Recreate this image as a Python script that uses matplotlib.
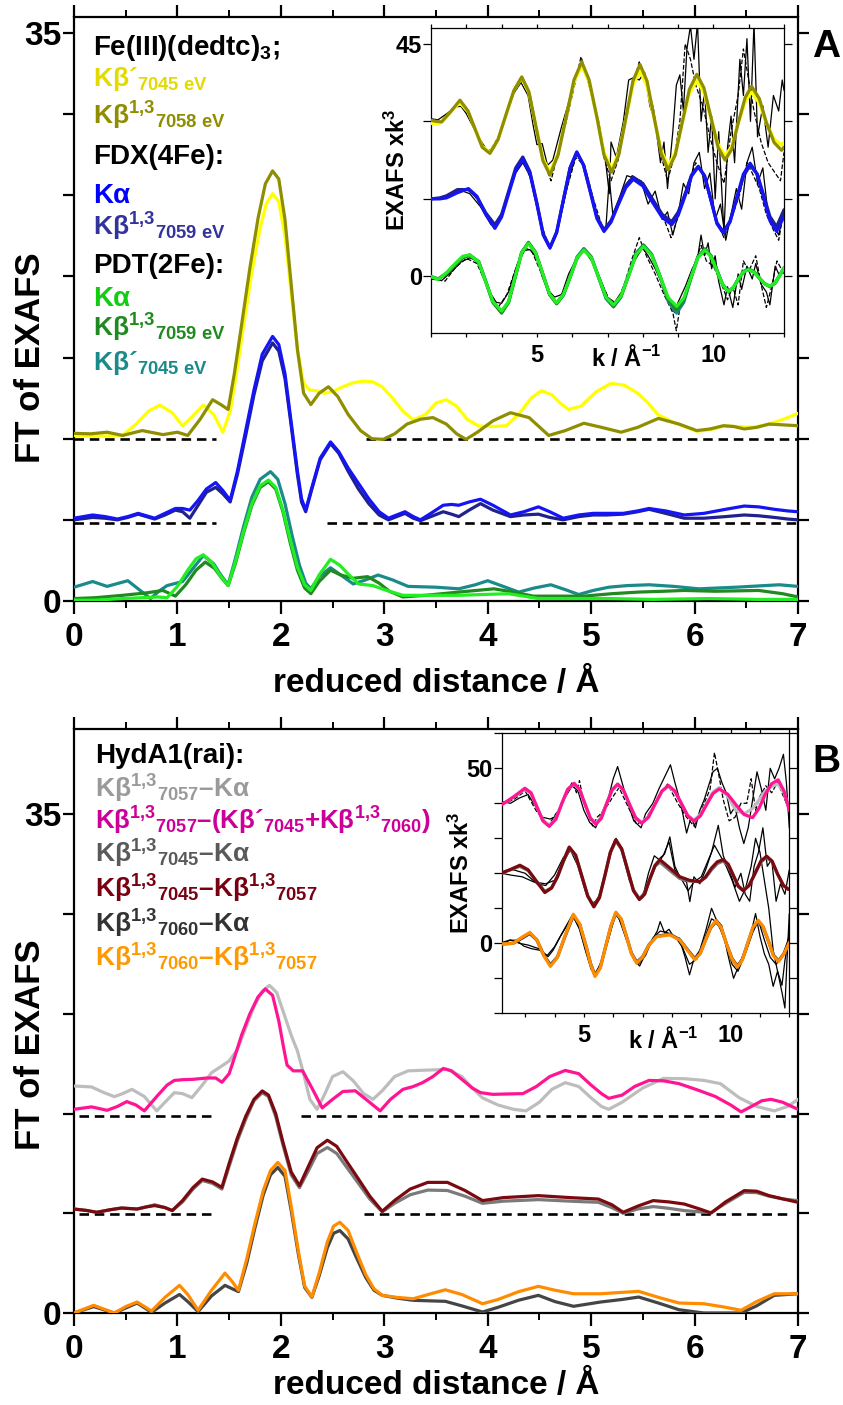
import matplotlib
matplotlib.use("Agg")
import matplotlib.pyplot as plt
from matplotlib.ticker import FixedLocator, MultipleLocator, FixedFormatter

plt.rcParams['font.family'] = ['Liberation Sans', 'DejaVu Sans']
plt.rcParams['font.weight'] = 'bold'
plt.rcParams['axes.labelweight'] = 'bold'
plt.rcParams['mathtext.fontset'] = 'custom'
plt.rcParams['mathtext.rm'] = 'Liberation Sans:bold'
plt.rcParams['mathtext.it'] = 'Liberation Sans:bold'
plt.rcParams['mathtext.bf'] = 'Liberation Sans:bold'
plt.rcParams['mathtext.sf'] = 'Liberation Sans:bold'
plt.rcParams['lines.solid_joinstyle'] = 'round'
plt.rcParams['lines.solid_capstyle'] = 'round'

# ---------------- Panel A: FT magnitudes ----------------
fe_kb13_x = [0, 0.16, 0.32, 0.47, 0.66, 0.86, 1.0, 1.1, 1.22, 1.34, 1.42, 1.49, 1.55, 1.62, 1.7, 1.78, 1.85,
             1.92, 1.98, 2.04, 2.1, 2.16, 2.22, 2.29, 2.37, 2.46, 2.55, 2.65, 2.77, 2.88, 2.99, 3.1, 3.22,
             3.35, 3.47, 3.6, 3.7, 3.79, 3.9, 4.05, 4.22, 4.4, 4.59, 4.75, 4.93, 5.1, 5.29, 5.45, 5.65,
             5.85, 6.02, 6.15, 6.28, 6.38, 6.48, 6.6, 6.72, 6.86, 7.0]
fe_kb13_y = [10.33, 10.3, 10.4, 10.2, 10.5, 10.25, 10.4, 10.2, 11.2, 12.4, 12.1, 11.8, 14.0, 17.0, 20.5, 23.6,
             25.7, 26.5, 26.0, 23.5, 19.5, 15.5, 12.8, 12.1, 12.8, 13.2, 12.6, 11.5, 10.5, 10.0, 9.96, 10.3,
             10.9, 11.2, 11.3, 10.9, 10.3, 9.96, 10.4, 11.1, 11.6, 11.3, 10.2, 10.5, 10.95, 10.7, 10.4, 10.7,
             11.25, 10.9, 10.5, 10.6, 10.8, 10.75, 10.6, 10.7, 10.9, 10.85, 10.8]

fe_kbp_x = [0, 0.2, 0.47, 0.6, 0.72, 0.83, 0.95, 1.05, 1.15, 1.25, 1.35, 1.44, 1.51, 1.57, 1.64, 1.72, 1.8,
            1.86, 1.92, 1.98, 2.04, 2.1, 2.16, 2.22, 2.28, 2.35, 2.42, 2.5, 2.6, 2.7, 2.8, 2.89, 2.98, 3.08,
            3.18, 3.28, 3.4, 3.5, 3.6, 3.7, 3.8, 3.91, 4.05, 4.18, 4.3, 4.42, 4.52, 4.62, 4.7, 4.78, 4.9,
            5.05, 5.19, 5.32, 5.45, 5.55, 5.65, 5.8, 6.02, 6.15, 6.28, 6.42, 6.57, 6.72, 6.86, 7.0]
fe_kbp_y = [10.2, 10.15, 10.2, 10.9, 11.7, 12.07, 11.6, 10.78, 11.4, 12.07, 11.5, 10.4, 11.7, 14.0, 17.0,
            20.3, 23.0, 24.5, 25.1, 24.6, 22.5, 19.0, 15.5, 13.4, 13.0, 12.95, 12.8, 12.9, 13.2, 13.45,
            13.55, 13.5, 13.2, 12.5, 11.7, 11.15, 11.5, 12.2, 12.4, 12.0, 11.2, 10.78, 10.75, 10.8, 11.5,
            12.5, 12.96, 12.7, 12.2, 11.8, 12.0, 12.9, 13.4, 13.3, 12.8, 12.2, 11.46, 11.0, 10.46, 10.55,
            10.78, 10.75, 10.7, 10.9, 11.2, 11.56]

fdx_x = [0, 0.18, 0.3, 0.42, 0.52, 0.62, 0.7, 0.78, 0.88, 0.98, 1.05, 1.12, 1.2, 1.28, 1.37, 1.44, 1.51,
         1.58, 1.66, 1.74, 1.82, 1.92, 1.98, 2.04, 2.1, 2.16, 2.2, 2.24, 2.3, 2.38, 2.48, 2.56, 2.65, 2.75,
         2.85, 2.95, 3.04, 3.12, 3.2, 3.28, 3.35, 3.45, 3.57, 3.65, 3.72, 3.82, 3.93, 4.05, 4.22, 4.35,
         4.49, 4.6, 4.73, 4.88, 5.02, 5.15, 5.31, 5.45, 5.56, 5.72, 5.9, 6.09, 6.3, 6.48, 6.62, 6.77, 6.9, 7.0]
fdx_ka_y = [5.1, 5.3, 5.2, 5.05, 5.2, 5.4, 5.25, 5.1, 5.4, 5.7, 5.7, 5.6, 6.2, 6.9, 7.3, 6.8, 6.2, 8.0, 10.5,
            13.0, 15.2, 16.3, 15.8, 14.0, 11.0, 8.0, 6.3, 5.6, 7.0, 8.8, 9.8, 9.2, 8.2, 7.25, 6.3, 5.5, 5.1,
            5.3, 5.5, 5.2, 5.0, 5.4, 5.9, 5.95, 5.9, 6.1, 6.27, 5.9, 5.3, 5.5, 5.8, 5.5, 5.1, 5.3, 5.4, 5.4,
            5.4, 5.55, 5.7, 5.55, 5.3, 5.4, 5.65, 5.85, 5.8, 5.65, 5.55, 5.5]
fdx_kb13_y = [5.0, 5.15, 5.1, 5.0, 5.15, 5.35, 5.2, 5.05, 5.3, 5.6, 5.5, 5.1, 5.9, 6.7, 7.0, 6.6, 6.1, 7.8,
              10.2, 12.7, 14.8, 15.9, 15.4, 13.7, 10.8, 7.8, 6.1, 5.5, 6.9, 8.7, 9.7, 9.1, 8.0, 6.9, 6.0, 5.3,
              5.0, 5.2, 5.4, 5.1, 4.95, 5.2, 5.5, 5.35, 5.2, 5.6, 6.0, 5.6, 5.2, 5.3, 5.35, 5.15, 5.0, 5.2,
              5.3, 5.3, 5.35, 5.5, 5.65, 5.4, 5.1, 5.1, 5.2, 5.3, 5.25, 5.15, 5.05, 5.0]

pdt_ka_x = [0, 0.2, 0.47, 0.65, 0.81, 0.9, 1.0, 1.1, 1.18, 1.25, 1.33, 1.41, 1.49, 1.56, 1.64, 1.72, 1.8,
            1.88, 1.95, 2.02, 2.09, 2.16, 2.23, 2.29, 2.37, 2.48, 2.57, 2.66, 2.75, 2.89, 3.0, 3.18, 3.4,
            3.72, 3.95, 4.2, 4.49, 4.8, 5.17, 5.6, 6.14, 6.6, 7.0]
pdt_ka_y = [0.05, 0.05, 0.15, 0.2, 0.25, 0.2, 0.9, 1.9, 2.6, 2.85, 2.4, 1.6, 0.95, 2.4, 4.3, 6.0, 7.1, 7.45,
            7.0, 5.6, 3.8, 2.1, 1.0, 0.65, 1.6, 2.57, 2.2, 1.6, 1.05, 0.95, 0.7, 0.35, 0.35, 0.35, 0.4, 0.45,
            0.15, 0.15, 0.15, 0.1, 0.15, 0.1, 0.1]

pdt_kb13_x = [0, 0.2, 0.47, 0.7, 0.86, 0.98, 1.08, 1.18, 1.27, 1.36, 1.43, 1.49, 1.56, 1.64, 1.72, 1.8, 1.88,
              1.95, 2.02, 2.09, 2.16, 2.23, 2.29, 2.37, 2.48, 2.58, 2.7, 2.84, 2.95, 3.05, 3.18, 3.4, 3.72,
              4.06, 4.25, 4.44, 4.7, 4.93, 5.2, 5.46, 5.7, 5.9, 6.2, 6.62, 6.85, 7.0]
pdt_kb13_y = [0.15, 0.2, 0.35, 0.5, 0.65, 0.3, 1.0, 1.9, 2.4, 2.0, 1.4, 0.95, 2.3, 4.2, 5.9, 7.0, 7.35, 6.9,
              5.5, 3.6, 1.9, 0.8, 0.45, 1.2, 1.9, 1.6, 1.4, 1.5, 1.1, 0.6, 0.25, 0.35, 0.55, 0.75, 0.55, 0.3,
              0.3, 0.3, 0.45, 0.55, 0.6, 0.65, 0.6, 0.65, 0.45, 0.25]

pdt_kbp_x = [0, 0.18, 0.32, 0.52, 0.63, 0.74, 0.82, 0.9, 1.05, 1.15, 1.25, 1.35, 1.42, 1.49, 1.56, 1.64,
             1.72, 1.8, 1.9, 1.97, 2.04, 2.11, 2.18, 2.24, 2.29, 2.37, 2.48, 2.58, 2.7, 2.82, 2.94, 3.08,
             3.23, 3.5, 3.72, 3.88, 4.0, 4.15, 4.3, 4.45, 4.61, 4.75, 4.88, 5.02, 5.17, 5.35, 5.56, 5.8,
             6.04, 6.4, 6.82, 7.0]
pdt_kbp_y = [0.85, 1.2, 0.9, 1.25, 0.7, 0.15, 0.6, 0.95, 1.2, 2.0, 2.8, 2.3, 1.6, 1.0, 2.6, 4.6, 6.4, 7.5,
             7.97, 7.5, 6.0, 4.0, 2.2, 1.1, 0.75, 1.5, 2.05, 1.6, 1.05, 1.3, 1.6, 1.3, 0.9, 0.85, 0.75, 1.0,
             1.25, 0.9, 0.55, 0.8, 1.0, 0.7, 0.4, 0.65, 0.85, 0.95, 1.0, 0.9, 0.75, 0.85, 1.0, 0.9]

# dashed zero lines of the offset traces: (level, x-start, x-end)
a_baselines = [(10.0, 0.0, 1.37), (10.0, 2.82, 7.0), (4.8, 0.0, 1.37), (4.8, 2.45, 7.0)]

# ---------------- Panel A inset: k^3-weighted EXAFS ----------------
ia_fit_x = [2.0, 2.15, 2.3, 2.55, 2.82, 3.05, 3.25, 3.45, 3.67, 3.9, 4.12, 4.35, 4.57, 4.77, 4.97, 5.17, 5.37,
            5.6, 5.82, 6.05, 6.27, 6.48, 6.7, 6.9, 7.12, 7.32, 7.52, 7.72, 7.92, 8.12, 8.32, 8.52, 8.72, 8.92,
            9.12, 9.32, 9.53, 9.73, 9.93, 10.13, 10.33, 10.52, 10.7, 10.9, 11.08, 11.3, 11.5, 11.72, 11.93, 12.0]
ia_fe_kb13 = [30.2, 30.0, 29.9, 31.8, 34.1, 32.0, 28.5, 25.0, 23.8, 26.5, 31.2, 36.0, 38.6, 35.8, 29.1, 22.4,
              19.6, 23.5, 30.5, 38.0, 41.5, 38.0, 30.8, 23.5, 20.2, 23.5, 30.6, 37.8, 41.0, 37.8, 30.8, 23.8,
              20.6, 23.5, 29.9, 36.2, 39.1, 36.5, 30.8, 25.0, 22.5, 24.6, 29.6, 34.6, 36.8, 34.4, 29.8, 25.9,
              24.4, 25.0]
ia_fe_kbp = [29.6, 29.5, 29.8, 31.8, 33.6, 31.8, 28.5, 25.2, 24.0, 26.5, 31.2, 36.0, 38.4, 35.6, 29.0, 22.8,
             20.2, 23.8, 30.5, 37.6, 40.8, 37.6, 30.8, 24.0, 20.8, 24.0, 30.6, 37.0, 39.8, 36.8, 30.6, 24.4,
             21.4, 24.0, 29.8, 35.4, 37.9, 35.6, 30.6, 25.6, 23.3, 25.2, 29.6, 33.7, 35.7, 33.5, 29.6, 26.6,
             25.4, 26.0]
ia_fe_data_x = [2.0, 2.2, 2.45, 2.7, 2.85, 3.0, 3.3, 3.6, 3.8, 4.1, 4.35, 4.55, 4.75, 4.9, 5.0, 5.15, 5.3,
                5.45, 5.7, 5.85, 6.05, 6.25, 6.4, 6.55, 6.75, 6.95, 7.05, 7.1, 7.25, 7.45, 7.6, 7.75, 7.9,
                8.05, 8.2, 8.35, 8.5, 8.6, 8.7, 8.85, 8.95, 9.05, 9.15, 9.25, 9.35, 9.45, 9.55, 9.65, 9.75,
                9.85, 9.95, 10.05, 10.15, 10.3, 10.4, 10.5, 10.6, 10.75, 10.85, 10.95, 11.05, 11.15, 11.25,
                11.4, 11.55, 11.7, 11.85, 11.95, 12.0]
ia_fe_data_y = [30.5, 30.3, 31.5, 32.8, 32.9, 31.5, 27.5, 24.2, 25.0, 30.5, 35.5, 37.5, 35.0, 29.0, 25.5,
                25.7, 21.5, 22.5, 29.0, 32.5, 37.5, 40.5, 39.0, 35.0, 30.0, 22.0, 16.0, 26.0, 23.0, 30.0,
                38.0, 38.5, 38.0, 39.5, 33.0, 30.0, 22.0, 26.0, 17.0, 28.0, 37.0, 39.0, 32.0, 44.0, 48.5,
                42.0, 49.0, 30.0, 36.0, 24.0, 31.0, 15.0, 28.0, 8.5, 25.0, 31.0, 22.0, 42.0, 35.0, 46.0,
                30.0, 49.0, 27.0, 33.0, 25.0, 35.0, 32.0, 38.0, 36.0]
ia_fe_data2_x = [2.0, 2.3, 2.6, 2.85, 3.1, 3.4, 3.65, 3.95, 4.2, 4.45, 4.6, 4.8, 5.0, 5.2, 5.4, 5.6, 5.85,
                 6.05, 6.25, 6.45, 6.7, 6.9, 7.1, 7.3, 7.5, 7.7, 7.9, 8.1, 8.3, 8.5, 8.7, 8.9, 9.05, 9.2,
                 9.35, 9.5, 9.7, 9.9, 10.1, 10.3, 10.5, 10.7, 10.85, 11.0, 11.15, 11.35, 11.55, 11.75, 11.9, 12.0]
ia_fe_data2_y = [30.0, 29.8, 32.5, 33.5, 30.5, 26.0, 24.0, 27.5, 33.0, 37.0, 38.0, 35.5, 28.5, 22.0, 18.5,
                 24.0, 30.5, 36.5, 42.5, 38.0, 30.5, 23.0, 18.5, 22.5, 31.0, 36.5, 41.5, 37.5, 32.5, 24.0,
                 18.5, 23.5, 30.0, 45.0, 42.0, 37.0, 33.0, 27.0, 22.0, 18.0, 28.0, 35.0, 44.0, 38.0, 32.0,
                 26.0, 22.0, 20.0, 18.5, 24.0]

ia_fdx_x = [2.0, 2.25, 2.44, 2.75, 3.06, 3.3, 3.55, 3.81, 4.0, 4.2, 4.4, 4.6, 4.8, 5.0, 5.18, 5.37, 5.56,
            5.75, 5.94, 6.13, 6.32, 6.51, 6.7, 6.9, 7.1, 7.3, 7.52, 7.73, 8.0, 8.27, 8.55, 8.82, 9.0, 9.2,
            9.38, 9.57, 9.75, 9.93, 10.1, 10.28, 10.47, 10.66, 10.85, 11.04, 11.24, 11.42, 11.6, 11.79, 12.0]
ia_fdx_ka = [15.0, 15.0, 15.2, 16.2, 17.0, 15.5, 12.0, 9.3, 11.5, 16.0, 20.5, 22.6, 20.0, 14.0, 8.0, 5.5,
             8.5, 14.8, 21.0, 24.1, 21.5, 16.4, 11.2, 8.7, 10.5, 13.8, 17.2, 18.8, 17.5, 14.4, 11.4, 10.0,
             11.8, 15.6, 19.4, 21.2, 19.5, 14.8, 10.2, 8.4, 10.5, 15.2, 19.8, 21.9, 19.8, 15.3, 10.8, 8.7, 11.6]
ia_fdx_kb13 = [15.0, 15.2, 15.6, 16.8, 16.8, 15.4, 12.3, 10.0, 12.0, 16.5, 21.0, 23.1, 20.3, 14.2, 8.2, 5.6,
               8.6, 14.8, 21.0, 24.0, 21.6, 16.6, 11.5, 9.0, 10.8, 14.0, 17.6, 19.2, 18.0, 15.0, 12.0, 10.6,
               12.4, 16.0, 19.6, 21.3, 19.4, 14.8, 10.4, 8.6, 10.7, 15.0, 19.4, 21.5, 19.8, 15.8, 11.6, 9.6, 12.9]
ia_fdx_data_x = [2.0, 2.3, 2.6, 2.9, 3.1, 3.4, 3.7, 3.9, 4.15, 4.4, 4.6, 4.8, 5.0, 5.2, 5.37, 5.55, 5.75,
                 5.95, 6.13, 6.35, 6.55, 6.75, 6.95, 7.05, 7.15, 7.35, 7.55, 7.75, 7.95, 8.15, 8.35, 8.55,
                 8.7, 8.85, 9.0, 9.15, 9.3, 9.45, 9.6, 9.75, 9.9, 10.05, 10.2, 10.35, 10.5, 10.65, 10.8,
                 10.95, 11.1, 11.25, 11.4, 11.55, 11.7, 11.85, 12.0]
ia_fdx_data_y = [15.0, 15.2, 15.8, 16.5, 16.0, 13.5, 10.0, 10.3, 15.0, 20.0, 22.0, 19.5, 13.5, 7.5, 5.5, 8.0,
                 14.0, 20.0, 23.8, 21.0, 15.0, 10.5, 9.0, 19.0, 12.0, 15.5, 19.5, 19.0, 18.5, 14.0, 16.5,
                 11.0, 12.5, 8.0, 12.0, 18.0, 16.0, 22.0, 24.0, 17.0, 20.0, 11.0, 14.0, 7.0, 12.0, 17.0,
                 13.0, 22.0, 25.0, 18.0, 21.0, 12.0, 10.0, 8.0, 13.0]
ia_fdx_data2_x = [2.0, 2.4, 2.8, 3.1, 3.4, 3.8, 4.05, 4.35, 4.6, 4.85, 5.1, 5.37, 5.6, 5.85, 6.1, 6.35, 6.6,
                  6.9, 7.15, 7.45, 7.7, 7.95, 8.25, 8.55, 8.8, 9.0, 9.25, 9.5, 9.7, 9.9, 10.1, 10.3, 10.5,
                  10.75, 10.95, 11.1, 11.3, 11.5, 11.7, 11.85, 12.0]
ia_fdx_data2_y = [15.0, 15.3, 16.5, 16.8, 14.0, 9.5, 13.0, 19.5, 22.5, 18.5, 10.5, 5.3, 9.5, 17.0, 23.0, 21.5,
                  15.0, 8.5, 11.5, 17.0, 19.5, 18.0, 15.0, 12.0, 7.5, 11.5, 17.5, 22.0, 20.0, 15.0, 10.5, 7.5,
                  11.0, 16.0, 22.0, 20.0, 17.0, 12.0, 9.0, 7.0, 13.0]

ia_pdt_x = [2.0, 2.2, 2.45, 2.7, 2.9, 3.1, 3.35, 3.55, 3.75, 4.0, 4.2, 4.38, 4.57, 4.76, 4.96, 5.16, 5.36,
            5.56, 5.75, 5.95, 6.14, 6.33, 6.54, 6.75, 6.96, 7.17, 7.38, 7.6, 7.81, 8.02, 8.25, 8.49, 8.72,
            8.96, 9.16, 9.36, 9.56, 9.76, 9.93, 10.1, 10.26, 10.42, 10.57, 10.71, 10.86, 11.0, 11.15, 11.3,
            11.45, 11.6, 11.75, 11.9, 12.0]
ia_pdt_ka = [0.0, -0.6, 0.8, 2.6, 3.9, 4.2, 2.8, -1.0, -4.8, -6.7, -4.8, -0.2, 4.6, 6.4, 4.6, 0.6, -3.4, -5.1,
             -3.5, 0.0, 3.6, 5.1, 3.6, -0.2, -4.0, -5.5, -3.8, 0.2, 4.2, 5.8, 4.1, 0.0, -4.1, -5.8, -4.2,
             -0.3, 3.6, 5.1, 3.8, 1.1, -1.6, -2.9, -2.1, -0.4, 0.9, 1.3, 0.8, -0.3, -1.4, -1.9, -1.2, 0.4, 1.6]
ia_pdt_kb13 = [0.0, -0.5, 0.6, 2.3, 3.6, 4.1, 2.8, -1.0, -5.0, -7.1, -5.0, -0.3, 4.6, 6.6, 4.7, 0.6, -3.5,
               -5.3, -3.6, 0.0, 3.6, 5.2, 3.7, -0.2, -4.1, -5.7, -3.9, 0.2, 4.4, 6.0, 4.2, 0.0, -4.4, -6.4,
               -4.6, -0.4, 3.7, 5.3, 4.0, 1.2, -1.6, -3.0, -2.2, -0.5, 0.9, 1.4, 0.9, -0.3, -1.4, -2.0, -1.3,
               0.4, 1.5]
ia_pdt_kbp = [0.0, -0.5, 0.7, 2.4, 3.7, 4.1, 2.9, -0.9, -4.9, -6.9, -4.9, -0.2, 4.7, 6.5, 4.6, 0.6, -3.5,
              -5.2, -3.6, 0.1, 3.8, 5.4, 3.8, -0.2, -4.3, -5.9, -4.0, 0.3, 4.5, 6.1, 4.3, 0.0, -4.8, -7.1,
              -5.0, -0.4, 3.8, 5.3, 4.0, 1.2, -1.5, -2.9, -2.1, -0.4, 1.0, 1.4, 0.9, -0.3, -1.4, -1.9, -1.2,
              0.5, 1.7]
ia_pdt_data_x = [2.0, 2.3, 2.6, 2.85, 3.1, 3.3, 3.5, 3.7, 3.85, 4.0, 4.2, 4.45, 4.65, 4.8, 5.0, 5.15, 5.3,
                 5.5, 5.7, 5.9, 6.15, 6.35, 6.55, 6.8, 7.0, 7.2, 7.45, 7.65, 7.85, 8.0, 8.15, 8.35, 8.55,
                 8.7, 8.9, 9.0, 9.2, 9.4, 9.55, 9.65, 9.75, 9.85, 9.95, 10.05, 10.15, 10.3, 10.4, 10.55,
                 10.7, 10.8, 10.95, 11.1, 11.2, 11.35, 11.5, 11.6, 11.75, 11.85, 12.0]
ia_pdt_data_y = [-0.3, -0.8, 1.0, 2.8, 3.6, 3.0, -0.5, -3.5, -5.0, -5.2, -3.0, 2.5, 5.0, 5.2, 3.5, 0.0, -2.5,
                 -4.0, -3.5, 0.5, 3.8, 5.0, 3.0, -0.5, -4.0, -5.0, -2.5, 1.5, 4.0, 5.5, 4.0, 1.5, -1.5,
                 -4.5, -7.0, -5.0, -2.0, 1.5, 3.5, 8.0, 4.0, 6.5, 1.5, 4.0, -1.0, -5.5, -2.0, -6.0, 0.5,
                 -2.5, 2.0, -0.5, 2.5, -1.5, -3.0, -5.5, 2.0, 0.5, 1.0]
ia_pdt_data2_x = [2.0, 2.4, 2.7, 3.0, 3.3, 3.6, 3.9, 4.15, 4.4, 4.65, 4.85, 5.1, 5.35, 5.55, 5.8, 6.05, 6.3,
                  6.55, 6.8, 7.05, 7.25, 7.5, 7.7, 7.9, 8.1, 8.35, 8.6, 8.85, 8.95, 9.05, 9.25, 9.45, 9.65,
                  9.8, 10.0, 10.2, 10.4, 10.55, 10.7, 10.85, 11.0, 11.2, 11.35, 11.5, 11.65, 11.8, 12.0]
ia_pdt_data2_y = [-0.5, -0.9, 1.8, 3.5, 2.5, -2.0, -6.0, -3.5, 1.5, 5.5, 5.0, 1.0, -3.5, -5.0, -2.5, 2.0, 5.2,
                  3.5, -0.8, -4.5, -5.5, -1.0, 3.5, 7.5, 4.0, 0.5, -3.5, -7.0, -10.5, -6.0, -3.0, 2.0, 6.0,
                  3.0, 2.0, -1.0, -4.5, -2.0, -5.5, 3.0, 1.0, 4.0, -1.5, -6.0, -2.0, 3.0, 0.5]

# ---------------- Panel B: FT magnitudes ----------------
rai_a_x = [0, 0.17, 0.28, 0.39, 0.47, 0.56, 0.68, 0.8, 0.88, 0.97, 1.05, 1.14, 1.24, 1.33, 1.42, 1.5, 1.58,
           1.66, 1.74, 1.82, 1.89, 1.96, 2.03, 2.1, 2.16, 2.22, 2.28, 2.35, 2.42, 2.5, 2.6, 2.7, 2.8, 2.89,
           2.98, 3.1, 3.23, 3.4, 3.61, 3.75, 3.85, 3.95, 4.1, 4.25, 4.37, 4.5, 4.62, 4.75, 4.88, 5.0, 5.1,
           5.17, 5.3, 5.5, 5.7, 5.9, 6.09, 6.25, 6.43, 6.6, 6.77, 6.9, 7.0]
rai_7057_ka = [15.94, 15.87, 15.5, 15.19, 15.4, 15.7, 15.2, 14.19, 14.8, 15.47, 15.4, 15.12, 16.0, 16.87, 17.3,
               17.69, 18.5, 20.0, 21.5, 22.6, 23.0, 22.5, 21.0, 19.5, 18.4, 16.8, 15.0, 14.3, 15.3, 16.6,
               16.94, 16.3, 15.4, 15.0, 15.6, 16.6, 17.0, 17.05, 17.1, 16.6, 15.8, 15.1, 14.6, 14.3, 14.19,
               14.8, 15.7, 16.17, 15.9, 15.1, 14.5, 14.3, 14.8, 15.8, 16.47, 16.45, 16.33, 16.1, 15.12, 14.5,
               14.19, 14.5, 15.0]

rai_b_x = [0, 0.17, 0.32, 0.42, 0.51, 0.6, 0.68, 0.8, 0.9, 0.97, 1.05, 1.14, 1.29, 1.37, 1.43, 1.5, 1.55,
           1.62, 1.7, 1.78, 1.85, 1.92, 1.98, 2.03, 2.06, 2.12, 2.21, 2.3, 2.4, 2.5, 2.6, 2.72, 2.84, 2.96,
           3.06, 3.18, 3.28, 3.37, 3.47, 3.57, 3.65, 3.75, 3.85, 3.93, 4.05, 4.2, 4.34, 4.47, 4.6, 4.75,
           4.88, 5.0, 5.1, 5.17, 5.3, 5.42, 5.56, 5.7, 5.85, 6.04, 6.2, 6.35, 6.45, 6.55, 6.65, 6.74, 6.85, 7.0]
rai_7057_mix = [14.3, 14.47, 14.23, 14.5, 14.84, 14.6, 14.19, 15.2, 16.0, 16.33, 16.38, 16.4, 16.5, 16.5, 16.2,
                16.8, 17.9, 19.5, 21.0, 22.2, 22.75, 22.3, 20.5, 18.5, 17.4, 17.0, 17.0, 15.8, 14.4, 15.0,
                15.55, 15.6, 14.9, 14.19, 15.0, 15.7, 15.9, 16.17, 16.6, 17.17, 17.0, 16.4, 15.8, 15.47,
                15.35, 15.38, 15.4, 15.9, 16.6, 17.03, 16.8, 16.0, 15.4, 15.07, 15.3, 15.9, 16.33, 16.3, 16.1,
                15.63, 15.2, 14.6, 14.12, 14.5, 14.9, 15.0, 14.8, 14.3]

rai_c_x = [0, 0.12, 0.22, 0.35, 0.46, 0.61, 0.7, 0.78, 0.88, 0.95, 1.05, 1.15, 1.24, 1.34, 1.43, 1.5, 1.58,
           1.66, 1.74, 1.82, 1.88, 1.95, 2.02, 2.1, 2.18, 2.26, 2.35, 2.45, 2.54, 2.64, 2.74, 2.86, 2.98,
           3.1, 3.25, 3.42, 3.61, 3.78, 3.95, 4.15, 4.49, 4.8, 5.07, 5.2, 5.31, 5.45, 5.6, 5.75, 5.9, 6.05,
           6.16, 6.3, 6.48, 6.6, 6.72, 6.86, 7.0]
rai_7045_kb = [7.3, 7.2, 7.07, 7.25, 7.37, 7.3, 7.45, 7.54, 7.4, 7.19, 7.9, 8.8, 9.4, 9.2, 8.82, 10.5, 12.3,
               13.8, 15.0, 15.59, 15.3, 14.0, 12.0, 9.9, 8.94, 10.2, 11.6, 12.13, 11.7, 10.6, 9.52, 8.2, 7.14,
               7.9, 8.7, 9.17, 9.17, 8.6, 7.89, 8.1, 8.24, 8.1, 8.0, 7.6, 7.07, 7.5, 7.89, 7.8, 7.65, 7.3,
               7.02, 7.8, 8.59, 8.55, 8.24, 8.0, 7.77]
rai_7045_ka = [7.3, 7.2, 7.07, 7.25, 7.37, 7.3, 7.45, 7.6, 7.4, 7.19, 7.8, 8.7, 9.3, 9.1, 8.7, 10.3, 12.1,
               13.6, 14.9, 15.47, 15.2, 13.8, 11.8, 9.7, 8.8, 9.9, 11.2, 11.62, 11.2, 10.2, 9.2, 8.0, 7.1,
               7.7, 8.3, 8.63, 8.6, 8.2, 7.7, 7.85, 7.96, 7.85, 7.77, 7.4, 7.0, 7.3, 7.47, 7.35, 7.19, 7.1,
               7.05, 7.7, 8.47, 8.45, 8.2, 8.0, 7.89]

rai_d_x = [0, 0.19, 0.39, 0.5, 0.61, 0.75, 0.88, 1.02, 1.1, 1.2, 1.33, 1.46, 1.53, 1.59, 1.67, 1.75, 1.83,
           1.9, 1.97, 2.04, 2.1, 2.17, 2.23, 2.3, 2.37, 2.45, 2.51, 2.57, 2.65, 2.73, 2.82, 2.9, 2.98, 3.12,
           3.28, 3.45, 3.59, 3.75, 3.95, 4.1, 4.3, 4.49, 4.65, 4.83, 5.09, 5.3, 5.46, 5.65, 5.85, 6.09, 6.3,
           6.45, 6.6, 6.77, 7.0]
rai_7060_kb = [0.0, 0.54, 0.0, 0.45, 0.77, 0.14, 1.1, 1.94, 1.3, 0.19, 1.6, 2.8, 2.2, 1.59, 3.8, 6.3, 8.6,
               10.0, 10.57, 10.0, 7.5, 4.3, 1.9, 1.12, 2.8, 5.0, 6.1, 6.37, 5.8, 4.3, 2.7, 1.7, 1.24, 1.1,
               1.0, 1.35, 1.63, 1.3, 0.65, 0.95, 1.5, 1.87, 1.6, 1.35, 1.35, 1.45, 1.52, 1.1, 0.7, 0.65, 0.4,
               0.19, 0.8, 1.35, 1.35]
rai_7060_ka = [0.0, 0.45, 0.0, 0.35, 0.7, 0.05, 0.7, 1.3, 0.8, 0.1, 1.2, 1.94, 1.7, 1.5, 3.5, 6.0, 8.3, 9.7,
               10.22, 9.6, 7.2, 4.1, 1.8, 1.1, 2.6, 4.6, 5.6, 5.79, 5.2, 3.9, 2.5, 1.6, 1.24, 1.05, 0.89, 0.85,
               0.82, 0.5, 0.07, 0.4, 0.9, 1.24, 0.8, 0.47, 0.77, 0.95, 1.12, 0.7, 0.23, 0.0, 0.0, 0.0, 0.5,
               1.24, 1.35]

b_baselines = [(13.85, 0.05, 1.37), (13.85, 2.19, 7.0), (6.92, 0.05, 1.37), (6.92, 2.8, 6.92)]

# ---------------- Panel B inset ----------------
ib_top_x = [2.2, 2.6, 2.99, 3.2, 3.4, 3.6, 3.82, 4.05, 4.25, 4.45, 4.67, 4.85, 5.03, 5.22, 5.41, 5.6, 5.78,
            5.96, 6.15, 6.35, 6.55, 6.76, 6.97, 7.2, 7.43, 7.66, 7.88, 8.1, 8.32, 8.54, 8.75, 8.97, 9.18, 9.4,
            9.61, 9.9, 10.18, 10.46, 10.75, 10.97, 11.18, 11.4, 11.62, 11.82, 12.0]
ib_mix = [39.6, 41.8, 44.3, 43.0, 39.0, 35.0, 33.4, 35.5, 40.0, 44.0, 45.7, 44.0, 40.0, 35.8, 34.0, 35.8,
          40.0, 43.8, 45.5, 43.8, 39.8, 35.9, 34.3, 36.0, 39.8, 43.5, 45.1, 43.5, 40.0, 36.4, 34.9, 36.4,
          39.6, 42.8, 44.1, 42.6, 39.6, 36.8, 35.9, 38.6, 42.6, 45.6, 46.7, 43.5, 37.9]
ib_ka = [39.6, 41.8, 44.0, 42.8, 39.0, 35.2, 33.8, 35.5, 40.0, 44.0, 45.5, 44.0, 40.0, 35.8, 34.3, 36.0,
         40.0, 43.6, 45.2, 43.6, 39.8, 36.0, 34.5, 36.2, 39.9, 43.4, 44.8, 43.2, 40.0, 36.6, 35.2, 36.8,
         40.0, 43.2, 44.5, 42.0, 38.0, 37.0, 38.5, 41.0, 43.5, 44.8, 45.5, 43.0, 38.5]

ib_mid_x = [2.2, 2.5, 2.82, 3.1, 3.4, 3.67, 3.9, 4.1, 4.3, 4.5, 4.72, 4.92, 5.13, 5.34, 5.53, 5.72, 5.9, 6.09,
            6.29, 6.49, 6.69, 6.89, 7.07, 7.24, 7.42, 7.59, 7.93, 8.27, 8.6, 8.95, 9.15, 9.35, 9.55, 9.75,
            9.92, 10.09, 10.26, 10.43, 10.63, 10.83, 11.03, 11.23, 11.42, 11.6, 11.8, 11.97, 12.0]
ib_7045_kb = [20.1, 21.1, 22.3, 21.0, 17.5, 14.5, 15.8, 19.0, 23.5, 27.5, 25.2, 19.5, 13.5, 10.4, 13.0, 19.5,
              26.0, 29.6, 27.0, 21.0, 15.0, 12.5, 14.0, 18.2, 22.2, 23.9, 21.5, 19.0, 18.0, 17.6, 19.0, 21.5,
              23.3, 23.9, 22.6, 19.5, 16.3, 15.0, 16.5, 20.0, 23.5, 24.9, 23.4, 19.8, 16.5, 15.4, 15.4]
ib_7045_ka = [20.1, 21.0, 22.0, 20.8, 17.6, 14.8, 15.9, 19.0, 23.3, 27.2, 25.0, 19.5, 13.6, 10.6, 13.1, 19.4,
              25.8, 29.3, 26.8, 21.0, 15.2, 12.8, 14.2, 18.2, 22.0, 23.2, 20.8, 18.5, 17.8, 17.6, 18.8, 21.0,
              22.8, 23.5, 22.3, 19.4, 16.4, 15.2, 16.6, 19.8, 23.2, 24.6, 23.2, 19.8, 16.6, 15.5, 15.5]

ib_bot_x = [2.2, 2.59, 2.9, 3.16, 3.4, 3.63, 3.86, 4.1, 4.35, 4.64, 4.86, 5.08, 5.23, 5.38, 5.56, 5.74, 5.92,
            6.09, 6.27, 6.45, 6.62, 6.8, 7.0, 7.22, 7.48, 7.93, 8.27, 8.53, 8.78, 8.96, 9.14, 9.32, 9.5, 9.68,
            9.86, 10.05, 10.23, 10.4, 10.58, 10.76, 10.94, 11.11, 11.29, 11.46, 11.63, 11.82, 12.0]
ib_7060_kb = [-0.2, 0.0, 1.8, 3.1, 1.0, -3.5, -6.6, -4.0, 2.0, 8.3, 5.5, -1.0, -6.0, -9.5, -7.0, -1.0, 5.0,
              8.9, 7.0, 2.0, -3.0, -5.7, -4.0, -0.5, 1.9, 2.4, 0.9, -2.0, -4.7, -3.0, 0.8, 4.5, 6.5, 4.5,
              -0.2, -4.6, -6.8, -4.8, -0.1, 4.6, 6.6, 4.8, 0.6, -3.6, -5.2, -3.0, 0.2]
ib_7060_ka = [-0.2, 0.0, 1.5, 2.8, 0.9, -3.3, -6.2, -3.9, 1.8, 7.9, 5.3, -1.0, -5.8, -9.2, -6.9, -1.0, 4.8,
              8.6, 6.9, 2.0, -2.8, -5.4, -3.9, -0.4, 2.0, 2.6, 1.0, -1.8, -4.4, -2.9, 0.8, 4.4, 6.2, 4.4,
              -0.2, -4.4, -6.5, -4.6, -0.1, 4.4, 6.3, 4.6, 0.6, -3.4, -5.0, -2.9, 0.2]

ib_top_data_x = [2.2, 2.5, 2.8, 3.1, 3.4, 3.6, 3.85, 4.1, 4.35, 4.6, 4.8, 5.0, 5.2, 5.4, 5.6, 5.85, 6.0, 6.15,
                 6.3, 6.5, 6.7, 6.95, 7.1, 7.35, 7.55, 7.75, 7.95, 8.1, 8.3, 8.5, 8.65, 8.8, 8.95, 9.1, 9.25,
                 9.4, 9.55, 9.7, 9.85, 10.0, 10.15, 10.3, 10.45, 10.6, 10.75, 10.9, 11.05, 11.2, 11.35, 11.5,
                 11.65, 11.8, 11.9, 12.0]
ib_top_data_y = [40.5, 40.0, 41.5, 42.5, 38.5, 36.0, 35.5, 36.5, 41.5, 45.0, 43.5, 38.0, 34.5, 33.0, 37.0,
                 42.0, 47.0, 50.5, 46.0, 40.0, 35.0, 33.0, 37.0, 40.0, 44.0, 47.5, 51.0, 46.0, 40.0, 31.5,
                 36.0, 33.0, 38.0, 41.0, 45.0, 49.0, 50.0, 46.0, 43.0, 37.0, 39.0, 33.0, 28.5, 33.0, 41.0,
                 49.0, 44.0, 38.0, 50.0, 47.0, 50.0, 54.0, 46.0, 33.0]
ib_top_data2_x = [2.2, 2.6, 3.0, 3.4, 3.8, 4.2, 4.6, 4.75, 4.85, 5.0, 5.3, 5.45, 5.7, 6.0, 6.2, 6.45, 6.8,
                  7.1, 7.5, 7.85, 8.2, 8.5, 8.75, 8.9, 9.1, 9.3, 9.45, 9.6, 9.75, 9.95, 10.15, 10.35, 10.55,
                  10.7, 10.85, 11.0, 11.2, 11.4, 11.6, 11.8, 12.0]
ib_top_data2_y = [39.8, 41.0, 43.5, 37.5, 33.8, 39.0, 46.0, 43.0, 46.5, 40.0, 33.5, 36.0, 38.0, 42.0, 44.5,
                  40.0, 34.0, 35.5, 41.0, 45.5, 40.0, 36.0, 33.5, 36.0, 40.0, 44.0, 54.5, 48.0, 41.0, 35.0,
                  36.0, 40.0, 40.0, 47.0, 38.0, 42.0, 45.0, 43.0, 46.0, 42.0, 38.0]

ib_mid_data_x = [2.2, 2.5, 2.9, 3.3, 3.7, 4.0, 4.3, 4.55, 4.75, 5.0, 5.25, 5.45, 5.7, 5.95, 6.1, 6.3, 6.55,
                 6.8, 7.0, 7.2, 7.4, 7.55, 7.75, 7.93, 8.1, 8.3, 8.5, 8.61, 8.75, 8.95, 9.15, 9.35, 9.58,
                 9.75, 9.95, 10.15, 10.35, 10.5, 10.65, 10.8, 10.95, 11.1, 11.25, 11.4, 11.55, 11.7, 11.85, 12.0]
ib_mid_data_y = [20.0, 19.5, 19.0, 17.5, 17.0, 18.0, 23.0, 27.0, 24.5, 17.0, 11.5, 12.0, 18.5, 27.5, 30.0,
                 26.0, 18.0, 13.5, 13.0, 20.0, 25.0, 24.0, 25.5, 30.4, 22.0, 18.5, 17.5, 11.9, 19.0, 17.0,
                 21.0, 26.0, 33.7, 25.0, 21.0, 16.0, 20.0, 14.0, 12.0, 22.0, 26.0, 33.0, 22.0, 24.0, 12.0,
                 17.0, 14.0, 21.0]
ib_mid_data2_x = [2.2, 2.6, 3.0, 3.4, 3.7, 4.0, 4.3, 4.55, 4.8, 5.05, 5.3, 5.55, 5.8, 6.05, 6.3, 6.6, 6.9,
                  7.2, 7.45, 7.7, 7.9, 8.1, 8.35, 8.55, 8.75, 9.0, 9.25, 9.45, 9.65, 9.85, 10.05, 10.3, 10.5,
                  10.7, 10.85, 11.0, 11.15, 11.3, 11.45, 11.6, 11.75, 11.85, 12.0]
ib_mid_data2_y = [20.3, 21.0, 20.0, 17.0, 16.5, 19.5, 24.5, 26.5, 22.0, 15.0, 10.8, 14.0, 22.0, 29.5, 26.5,
                  17.0, 12.5, 17.0, 22.0, 25.0, 29.0, 21.0, 18.0, 15.0, 17.5, 19.0, 24.0, 28.0, 25.0, 22.0,
                  18.0, 12.0, 15.5, 22.0, 30.0, 26.0, 18.0, 10.0, -2.0, -8.0, -12.0, -5.0, 3.0]

ib_bot_data_x = [2.2, 2.45, 2.7, 2.95, 3.2, 3.5, 3.78, 3.95, 4.2, 4.45, 4.65, 4.85, 5.05, 5.25, 5.4, 5.6,
                 5.85, 6.05, 6.2, 6.45, 6.7, 6.9, 7.1, 7.3, 7.5, 7.6, 7.75, 7.9, 8.05, 8.25, 8.45, 8.6, 8.75,
                 8.95, 9.15, 9.35, 9.5, 9.7, 9.9, 10.1, 10.3, 10.5, 10.7, 10.85, 11.0, 11.15, 11.3, 11.45,
                 11.6, 11.75, 11.85, 11.92, 12.0]
ib_bot_data_y = [-0.5, 0.8, 0.9, -0.8, -1.5, -2.0, -3.8, -2.0, 2.0, 5.5, 7.5, 4.0, -2.0, -7.5, -9.0, -5.0,
                 2.0, 8.5, 7.0, 1.0, -4.5, -6.5, -3.0, 0.5, 3.5, 6.2, 3.0, 4.0, 2.0, 1.5, -4.0, -9.0, -4.5,
                 -2.0, 3.5, 10.0, 7.0, 5.0, -3.0, -10.0, -6.0, -2.0, 3.0, 8.5, 2.0, -3.0, -6.0, -12.3, -8.0,
                 -14.0, -18.5, -5.0, 8.5]
ib_bot_data2_x = [2.2, 2.5, 2.8, 3.1, 3.45, 3.75, 4.0, 4.3, 4.6, 4.85, 5.1, 5.35, 5.6, 5.85, 6.1, 6.35, 6.6,
                  6.85, 7.1, 7.35, 7.6, 7.85, 8.1, 8.35, 8.6, 8.85, 9.1, 9.35, 9.55, 9.8, 10.05, 10.25, 10.5,
                  10.75, 10.95, 11.15, 11.35, 11.55, 11.75, 12.0]
ib_bot_data2_y = [0.2, 1.0, 0.0, -0.5, -1.5, -3.5, -1.0, 3.5, 8.0, 4.5, -3.0, -9.0, -5.5, 1.5, 9.0, 4.0,
                  -2.5, -6.0, -3.5, 1.5, 3.5, 3.0, 2.0, -1.0, -6.0, -4.5, 1.0, 7.0, 6.0, 1.0, -6.0, -8.0,
                  -3.0, 3.0, 6.5, 1.0, -4.0, -6.0, -4.0, 2.0]

# ---------------- colours ----------------
C_YEL, C_YEL_T = '#FFFF00', '#E3DA00'
C_OLV = '#8E8E00'
C_BLU = '#1414F5'
C_NAV, C_NAV_T = '#20208E', '#33339C'
C_GRN, C_GRN_T = '#22EE22', '#11CC11'
C_DGR = '#1F8A1F'
C_TEA = '#1A8A8A'
C_LGY, C_LGY_T = '#BDBDBD', '#9A9A9A'
C_PNK, C_PNK_T = '#FF1493', '#CC0099'
C_MGY, C_MGY_T = '#7A7A7A', '#5A5A5A'
C_DRD = '#7A0A10'
C_DGY = '#454545'
C_ORG, C_ORG_T = '#FF8C00', '#FF9900'

W, H = 843, 1405
fig = plt.figure(figsize=(W / 100, H / 100), dpi=100)


def box(left, top, right, bottom):
    return [left / W, 1 - bottom / H, (right - left) / W, (bottom - top) / H]


def ftext(x, y, s, **kw):
    fig.text(x / W, 1 - y / H, s, **kw)


def style_main(ax, ymax, ystep, labelpad):
    ax.set_xlim(0, 7)
    ax.set_ylim(0, ymax)
    for sp in ax.spines.values():
        sp.set_linewidth(1.6)
    ax.xaxis.set_major_locator(MultipleLocator(1))
    ax.xaxis.set_minor_locator(MultipleLocator(0.5))
    yt = [i * ystep for i in range(int(35 / ystep) + 1)]
    ax.yaxis.set_major_locator(FixedLocator(yt))
    ax.yaxis.set_major_formatter(FixedFormatter(['0'] + [''] * (len(yt) - 2) + ['35']))
    ax.tick_params(axis='x', which='major', direction='out', length=9, width=1.6, labelsize=24, pad=6,
                   top=True)
    ax.tick_params(axis='x', which='minor', direction='out', length=5, width=1.4, top=True)
    ax.tick_params(axis='y', which='major', direction='out', length=8, width=1.6, labelsize=24, pad=1,
                   right=True)
    for lab in ax.get_xticklabels() + ax.get_yticklabels():
        lab.set_fontweight('bold')
    ax.set_xlabel('reduced distance / Å', fontsize=24, labelpad=labelpad)


def style_inset(ax, xlim, ylim, ystep, ylabels):
    ax.set_xlim(*xlim)
    ax.set_ylim(*ylim)
    for sp in ax.spines.values():
        sp.set_linewidth(0.9)
    ax.xaxis.set_major_locator(MultipleLocator(1))
    ax.xaxis.set_major_formatter(plt.FuncFormatter(lambda v, p: f"{v:.0f}" if round(v) in (5, 10) else ""))
    ax.yaxis.set_major_locator(MultipleLocator(ystep))
    ax.yaxis.set_major_formatter(plt.FuncFormatter(lambda v, p: f"{v:.0f}" if round(v) in ylabels else ""))
    ax.tick_params(axis='x', direction='out', length=3, width=0.9, labelsize=17, pad=5, top=True)
    ax.tick_params(axis='y', direction='out', length=6, width=0.9, labelsize=17, pad=0.5, right=True)
    for lab in ax.get_xticklabels() + ax.get_yticklabels():
        lab.set_fontweight('bold')


def baselines(ax, segs):
    for lev, x0, x1 in segs:
        ax.plot([x0, x1], [lev, lev], color='black', lw=1.9, dashes=(3.6, 2.2), zorder=2)


# ---------------- Panel A ----------------
axA = fig.add_axes(box(74, 16.7, 798, 601))
style_main(axA, 36, 5, 11)
baselines(axA, a_baselines)
lwm = 2.3
axA.plot(fe_kbp_x, fe_kbp_y, color=C_YEL, lw=lwm, zorder=3)
axA.plot(fe_kb13_x, fe_kb13_y, color=C_OLV, lw=lwm, zorder=4)
axA.plot(fdx_x, fdx_kb13_y, color=C_NAV, lw=lwm, zorder=3)
axA.plot(fdx_x, fdx_ka_y, color=C_BLU, lw=lwm, zorder=4)
axA.plot(pdt_kbp_x, pdt_kbp_y, color=C_TEA, lw=lwm, zorder=3)
axA.plot(pdt_kb13_x, pdt_kb13_y, color=C_DGR, lw=lwm, zorder=4)
axA.plot(pdt_ka_x, pdt_ka_y, color=C_GRN, lw=lwm, zorder=5)

insA = fig.add_axes(box(431, 28.3, 784, 333.3), zorder=5)
style_inset(insA, (2, 12), (-11, 48), 15, (0, 45))
lwd, lwf = 0.9, 2.3
for xs, ys, ls in [(ia_fe_data_x, ia_fe_data_y, '-'), (ia_fe_data2_x, ia_fe_data2_y, '--'),
                   (ia_fdx_data_x, ia_fdx_data_y, '-'), (ia_fdx_data2_x, ia_fdx_data2_y, '--'),
                   (ia_pdt_data_x, ia_pdt_data_y, '-'), (ia_pdt_data2_x, ia_pdt_data2_y, '--')]:
    insA.plot(xs, ys, color='black', lw=lwd, ls=ls, zorder=2)
insA.plot(ia_fit_x, ia_fe_kbp, color=C_YEL, lw=lwf, zorder=3)
insA.plot(ia_fit_x, ia_fe_kb13, color=C_OLV, lw=lwf, zorder=4)
insA.plot(ia_fdx_x, ia_fdx_kb13, color=C_NAV, lw=lwf, zorder=3)
insA.plot(ia_fdx_x, ia_fdx_ka, color=C_BLU, lw=lwf, zorder=4)
insA.plot(ia_pdt_x, ia_pdt_kbp, color=C_TEA, lw=lwf, zorder=3)
insA.plot(ia_pdt_x, ia_pdt_kb13, color=C_DGR, lw=lwf, zorder=4)
insA.plot(ia_pdt_x, ia_pdt_ka, color=C_GRN, lw=lwf, zorder=5)

# ---------------- Panel B ----------------
axB = fig.add_axes(box(74, 729, 798, 1313))
style_main(axB, 41, 7, 4)
baselines(axB, b_baselines)
axB.plot(rai_a_x, rai_7057_ka, color=C_LGY, lw=lwm, zorder=3)
axB.plot(rai_b_x, rai_7057_mix, color=C_PNK, lw=lwm, zorder=4)
axB.plot(rai_c_x, rai_7045_ka, color=C_MGY, lw=lwm, zorder=3)
axB.plot(rai_c_x, rai_7045_kb, color=C_DRD, lw=lwm, zorder=4)
axB.plot(rai_d_x, rai_7060_ka, color=C_DGY, lw=lwm, zorder=3)
axB.plot(rai_d_x, rai_7060_kb, color=C_ORG, lw=lwm, zorder=4)

insB = fig.add_axes(box(501.7, 733.3, 789.3, 1013.3), zorder=5)
style_inset(insB, (2.2, 12), (-20, 60), 10, (0, 50))
for xs, ys, ls in [(ib_top_data_x, ib_top_data_y, '-'), (ib_top_data2_x, ib_top_data2_y, '--'),
                   (ib_mid_data_x, ib_mid_data_y, '-'), (ib_mid_data2_x, ib_mid_data2_y, '-'),
                   (ib_bot_data_x, ib_bot_data_y, '-'), (ib_bot_data2_x, ib_bot_data2_y, '-')]:
    insB.plot(xs, ys, color='black', lw=lwd, ls=ls, zorder=2)
insB.plot(ib_top_x, ib_ka, color=C_LGY, lw=lwf, zorder=3)
insB.plot(ib_top_x, ib_mix, color=C_PNK, lw=lwf, zorder=4)
insB.plot(ib_mid_x, ib_7045_ka, color=C_MGY, lw=lwf, zorder=3)
insB.plot(ib_mid_x, ib_7045_kb, color=C_DRD, lw=lwf, zorder=4)
insB.plot(ib_bot_x, ib_7060_ka, color=C_DGY, lw=lwf, zorder=3)
insB.plot(ib_bot_x, ib_7060_kb, color=C_ORG, lw=lwf, zorder=4)

# ---------------- text ----------------
ftext(30, 358, 'FT of EXAFS', rotation=90, ha='center', va='center', fontsize=25, fontweight='bold')
ftext(30, 1045, 'FT of EXAFS', rotation=90, ha='center', va='center', fontsize=25, fontweight='bold')
ftext(826, 47, 'A', ha='center', va='center', fontsize=28, fontweight='bold')
ftext(826, 762, 'B', ha='center', va='center', fontsize=28, fontweight='bold')

ftext(397, 170, 'EXAFS xk$^3$', rotation=90, ha='center', va='center', fontsize=17, fontweight='bold')
ftext(626, 358, 'k / Å$^{-1}$', ha='center', va='center', fontsize=17, fontweight='bold')
ftext(461, 873, 'EXAFS xk$^3$', rotation=90, ha='center', va='center', fontsize=17, fontweight='bold')
ftext(663, 1040, 'k / Å$^{-1}$', ha='center', va='center', fontsize=17, fontweight='bold')

S13 = '$^{1{,}3}$'
lx = 93
legend_a = [
    (55, 'Fe(III)(dedtc)$_3$;', 'black', 20),
    (86, 'Kβ´$_{7045\\ eV}$', C_YEL_T, 19),
    (125, 'Kβ' + S13 + '$_{7058\\ eV}$', C_OLV, 19),
    (164, 'FDX(4Fe):', 'black', 20),
    (203, 'Kα', '#0000FF', 20),
    (236, 'Kβ' + S13 + '$_{7059\\ eV}$', C_NAV_T, 19),
    (273, 'PDT(2Fe):', 'black', 20),
    (306, 'Kα', C_GRN_T, 20),
    (337, 'Kβ' + S13 + '$_{7059\\ eV}$', C_DGR, 19),
    (370, 'Kβ´$_{7045\\ eV}$', C_TEA, 19),
]
for y, s, c, fs in legend_a:
    ftext(lx, y, s, ha='left', va='baseline', fontsize=fs, fontweight='bold', color=c)

legend_b = [
    (763, 'HydA1(rai):', 'black', 20),
    (798, 'Kβ' + S13 + '$_{7057}$–Kα', C_LGY_T, 19),
    (830, 'Kβ' + S13 + '$_{7057}$–(Kβ´$_{7045}$+Kβ' + S13 + '$_{7060}$)', C_PNK_T, 18.6),
    (863, 'Kβ' + S13 + '$_{7045}$–Kα', C_MGY_T, 19),
    (898, 'Kβ' + S13 + '$_{7045}$–Kβ' + S13 + '$_{7057}$', '#770011', 19),
    (933, 'Kβ' + S13 + '$_{7060}$–Kα', '#333333', 19),
    (967, 'Kβ' + S13 + '$_{7060}$–Kβ' + S13 + '$_{7057}$', C_ORG_T, 19),
]
for y, s, c, fs in legend_b:
    ftext(95, y, s, ha='left', va='baseline', fontsize=fs, fontweight='bold', color=c)

fig.savefig('out.png', dpi=100)
